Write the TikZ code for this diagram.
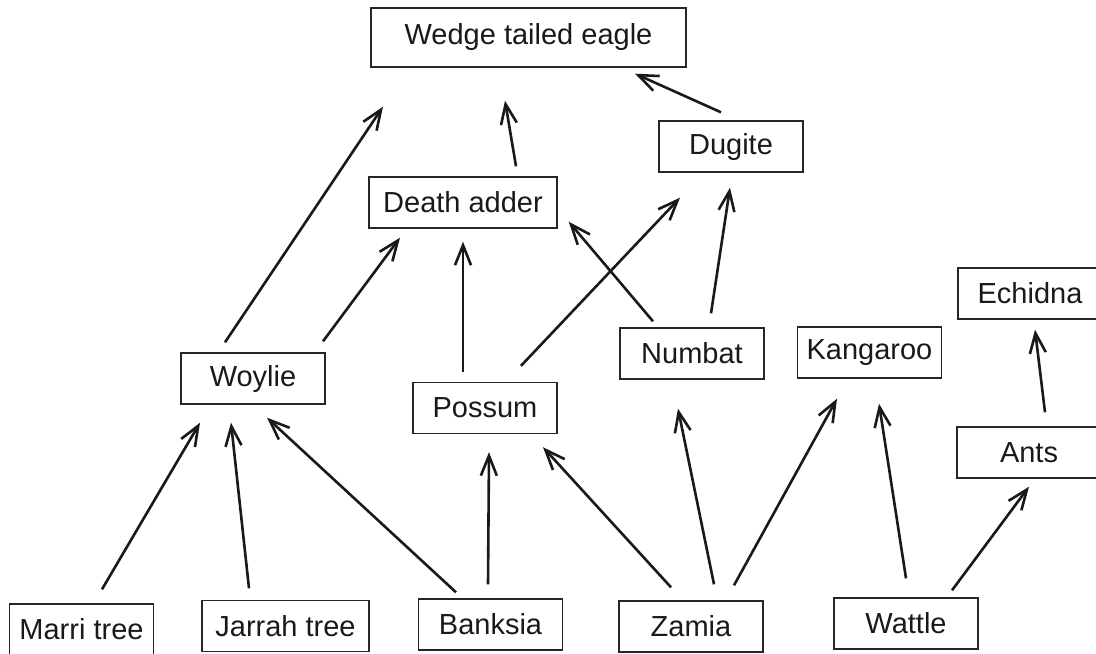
\documentclass[tikz,border=0pt]{standalone}
\usepackage{fontspec}
\setmainfont{Liberation Sans}
\usetikzlibrary{arrows.meta}

\begin{document}
\begin{tikzpicture}[
    x=0.5pt, y=-0.5pt,
    box/.style={rectangle, draw=black!85, line width=0.7pt, minimum width=72pt, minimum height=25.5pt, inner sep=0pt, font=\fontsize{14.5}{17}\selectfont, text=black!90},
    arrow/.style={-{Straight Barb[length=10pt,width=8pt]}, line width=1.3pt, draw=black!90}
]
\clip (0,0) rectangle (1096,653);

% Nodes
\node [box, minimum width=157.5pt, minimum height=29.5pt] (eagle) at (528.5,37.5) {Wedge tailed eagle};
\node [box] (dugite) at (731,146.5) {Dugite};
\node [box, minimum width=94pt] (adder) at (463,202.5) {Death adder};
\node [box] (woylie) at (253,378.5) {Woylie};
\node [box] (possum) at (485,408) {Possum};
\node [box] (numbat) at (692,353.5) {Numbat};
\node [box] (kangaroo) at (869.5,352.5) {Kangaroo};
\node [box] (echidna) at (1030,293.5) {Echidna};
\node [box] (ants) at (1029,452.5) {Ants};
\node [box] (marri) at (81.5,629.5) {Marri tree};
\node [box, minimum width=83.5pt] (jarrah) at (285.5,626) {Jarrah tree};
\node [box] (banksia) at (490.5,624.5) {Banksia};
\node [box] (zamia) at (691,626.5) {Zamia};
\node [box] (wattle) at (906,623.5) {Wattle};

% Paths
\draw [arrow] ([shift={(20.5,-14)}]marri.north) -- ([shift={(-53,18)}]woylie.south);
\draw [arrow] ([shift={(-36.5,-11.5)}]jarrah.north) -- ([shift={(-22,18)}]woylie.south);
\draw [arrow] ([shift={(-34.5,-6)}]banksia.north) -- ([shift={(14,13)}]woylie.south);
\draw [arrow] ([shift={(-28,-10)}]woylie.north) -- ([shift={(-145.5,39)}]eagle.south);
\draw [arrow] ([shift={(70,-11)}]woylie.north) -- ([shift={(-63,9)}]adder.south);
\draw [arrow] ([shift={(-22,-10)}]possum.north) -- ([shift={(0,13)}]adder.south);
\draw [arrow] ([shift={(36,-16)}]possum.north) -- ([shift={(-51,25)}]dugite.south);
\draw [arrow] ([shift={(-39,-6)}]numbat.north) -- ([shift={(11,-7)}]adder.south east);
\draw [arrow] ([shift={(19,-14)}]numbat.north) -- ([shift={(-1,15)}]dugite.south);
\draw [arrow] ([shift={(53,-10)}]adder.north) -- ([shift={(-23.5,33)}]eagle.south);
\draw [arrow] ([shift={(-10,-8)}]dugite.north) -- ([shift={(106.5,6)}]eagle.south);
\draw [arrow] ([shift={(-2.5,-14)}]banksia.north) -- ([shift={(4,18)}]possum.south);
\draw [arrow] ([shift={(-20,-13)}]zamia.north) -- ([shift={(58,13)}]possum.south);
\draw [arrow] ([shift={(23,-16)}]zamia.north) -- ([shift={(-14,29)}]numbat.south);
\draw [arrow] ([shift={(43,-15)}]zamia.north) -- ([shift={(-32.5,20)}]kangaroo.south);
\draw [arrow] ([shift={(0,-19)}]wattle.north) -- ([shift={(9.5,25)}]kangaroo.south);
\draw [arrow] ([shift={(46,-7)}]wattle.north) -- ([shift={(0,8)}]ants.south);
\draw [arrow] ([shift={(16,-14)}]ants.north) -- ([shift={(5,10)}]echidna.south);

\end{tikzpicture}
\end{document}
